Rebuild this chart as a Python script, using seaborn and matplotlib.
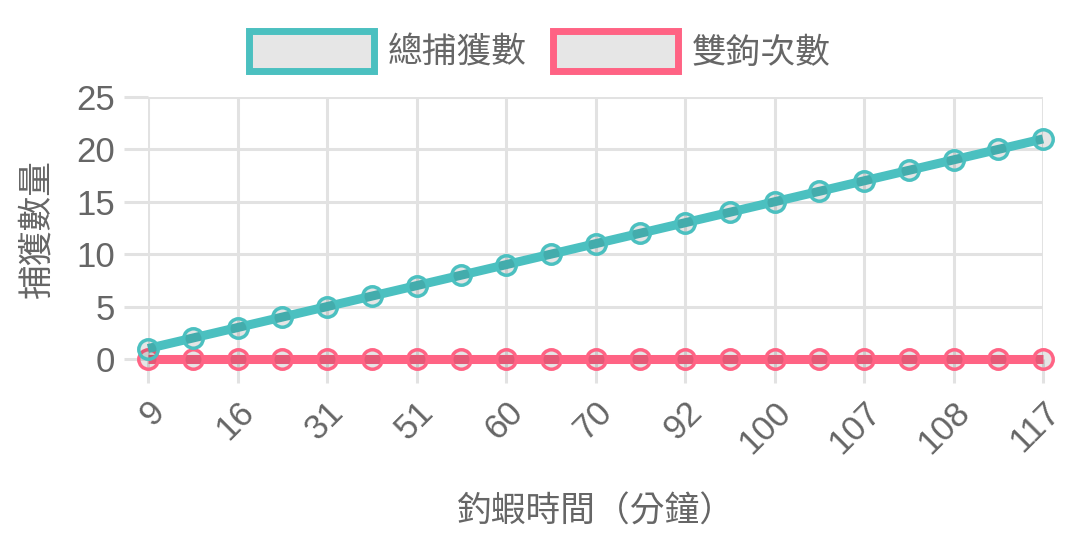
import numpy as np
import pandas as pd
import matplotlib
matplotlib.use("Agg")
import matplotlib.pyplot as plt
from matplotlib.patches import Patch
import seaborn as sns

# data
minutes = ["9", "12", "16", "22", "31", "42", "51", "55", "60", "65", "70",
           "80", "92", "95", "100", "104", "107", "107", "108", "112", "117"]
total_catch = [1, 2, 3, 4, 5, 6, 7, 8, 9, 10, 11,
               12, 13, 14, 15, 16, 17, 18, 19, 20, 21]
double_hook = [0, 0, 0, 0, 0, 0, 0, 0, 0, 0, 0,
               0, 0, 0, 0, 0, 0, 0, 0, 0, 0]
series_names = ["總捕獲數", "雙鉤次數"]
series_colors = ["#4BC0C0", "#FF6384"]

sns.set_theme(style="white")
plt.rcParams['font.family'] = ['Liberation Sans', 'Noto Sans CJK TC']
text_color = "#666666"
grid_color = "#e2e2e2"
fs = 25

df = pd.DataFrame({
    "pos": np.arange(len(minutes)),
    series_names[0]: total_catch,
    series_names[1]: double_hook,
})

fig, ax = plt.subplots(figsize=(10.86, 5.43), dpi=100)
fig.subplots_adjust(left=148 / 1086, right=1043 / 1086,
                    top=1 - 97 / 543, bottom=1 - 359 / 543)

# pink first so the teal series sits on top
for name, col in [(series_names[1], series_colors[1]), (series_names[0], series_colors[0])]:
    sns.lineplot(data=df, x="pos", y=name, ax=ax, color=col, linewidth=6.5,
                 marker="o", markersize=14, markeredgewidth=2.5,
                 markeredgecolor=col, markerfacecolor=(0, 0, 0, 0.1))
for ln in ax.lines:
    ln.set_clip_on(False)
    ln.set_solid_capstyle("butt")

ax.set_xlim(0, len(minutes) - 1)
ax.set_ylim(0, 25)
ax.set_yticks([0, 5, 10, 15, 20, 25])
ax.set_xticks(df["pos"][::2])
ax.set_xticklabels(minutes[::2], rotation=45, ha="right", va="top",
                   rotation_mode="anchor")
ax.grid(True, color=grid_color, linewidth=2.2)
ax.set_axisbelow(True)
for s in ax.spines.values():
    s.set_visible(False)
ax.tick_params(axis="both", length=17, width=2.2, color=grid_color,
               labelsize=fs, labelcolor=text_color, bottom=True, left=True)
ax.tick_params(axis="y", pad=7)
ax.tick_params(axis="x", pad=9)

ax.set_xlabel("釣蝦時間（分鐘）", fontsize=fs, color=text_color, labelpad=26)
ax.set_ylabel("捕獲數量", fontsize=fs, color=text_color, labelpad=16)

handles = [Patch(facecolor="#e6e6e6", edgecolor=c, linewidth=5, label=n)
           for n, c in zip(series_names, series_colors)]
leg = fig.legend(handles=handles, loc="upper center", bbox_to_anchor=(0.497, 1.0),
                 ncol=2, frameon=False, fontsize=fs, handlelength=3.6,
                 handleheight=1.4, handletextpad=0.4, columnspacing=0.75)
for t in leg.get_texts():
    t.set_color(text_color)

fig.savefig("out.png", dpi=100)
